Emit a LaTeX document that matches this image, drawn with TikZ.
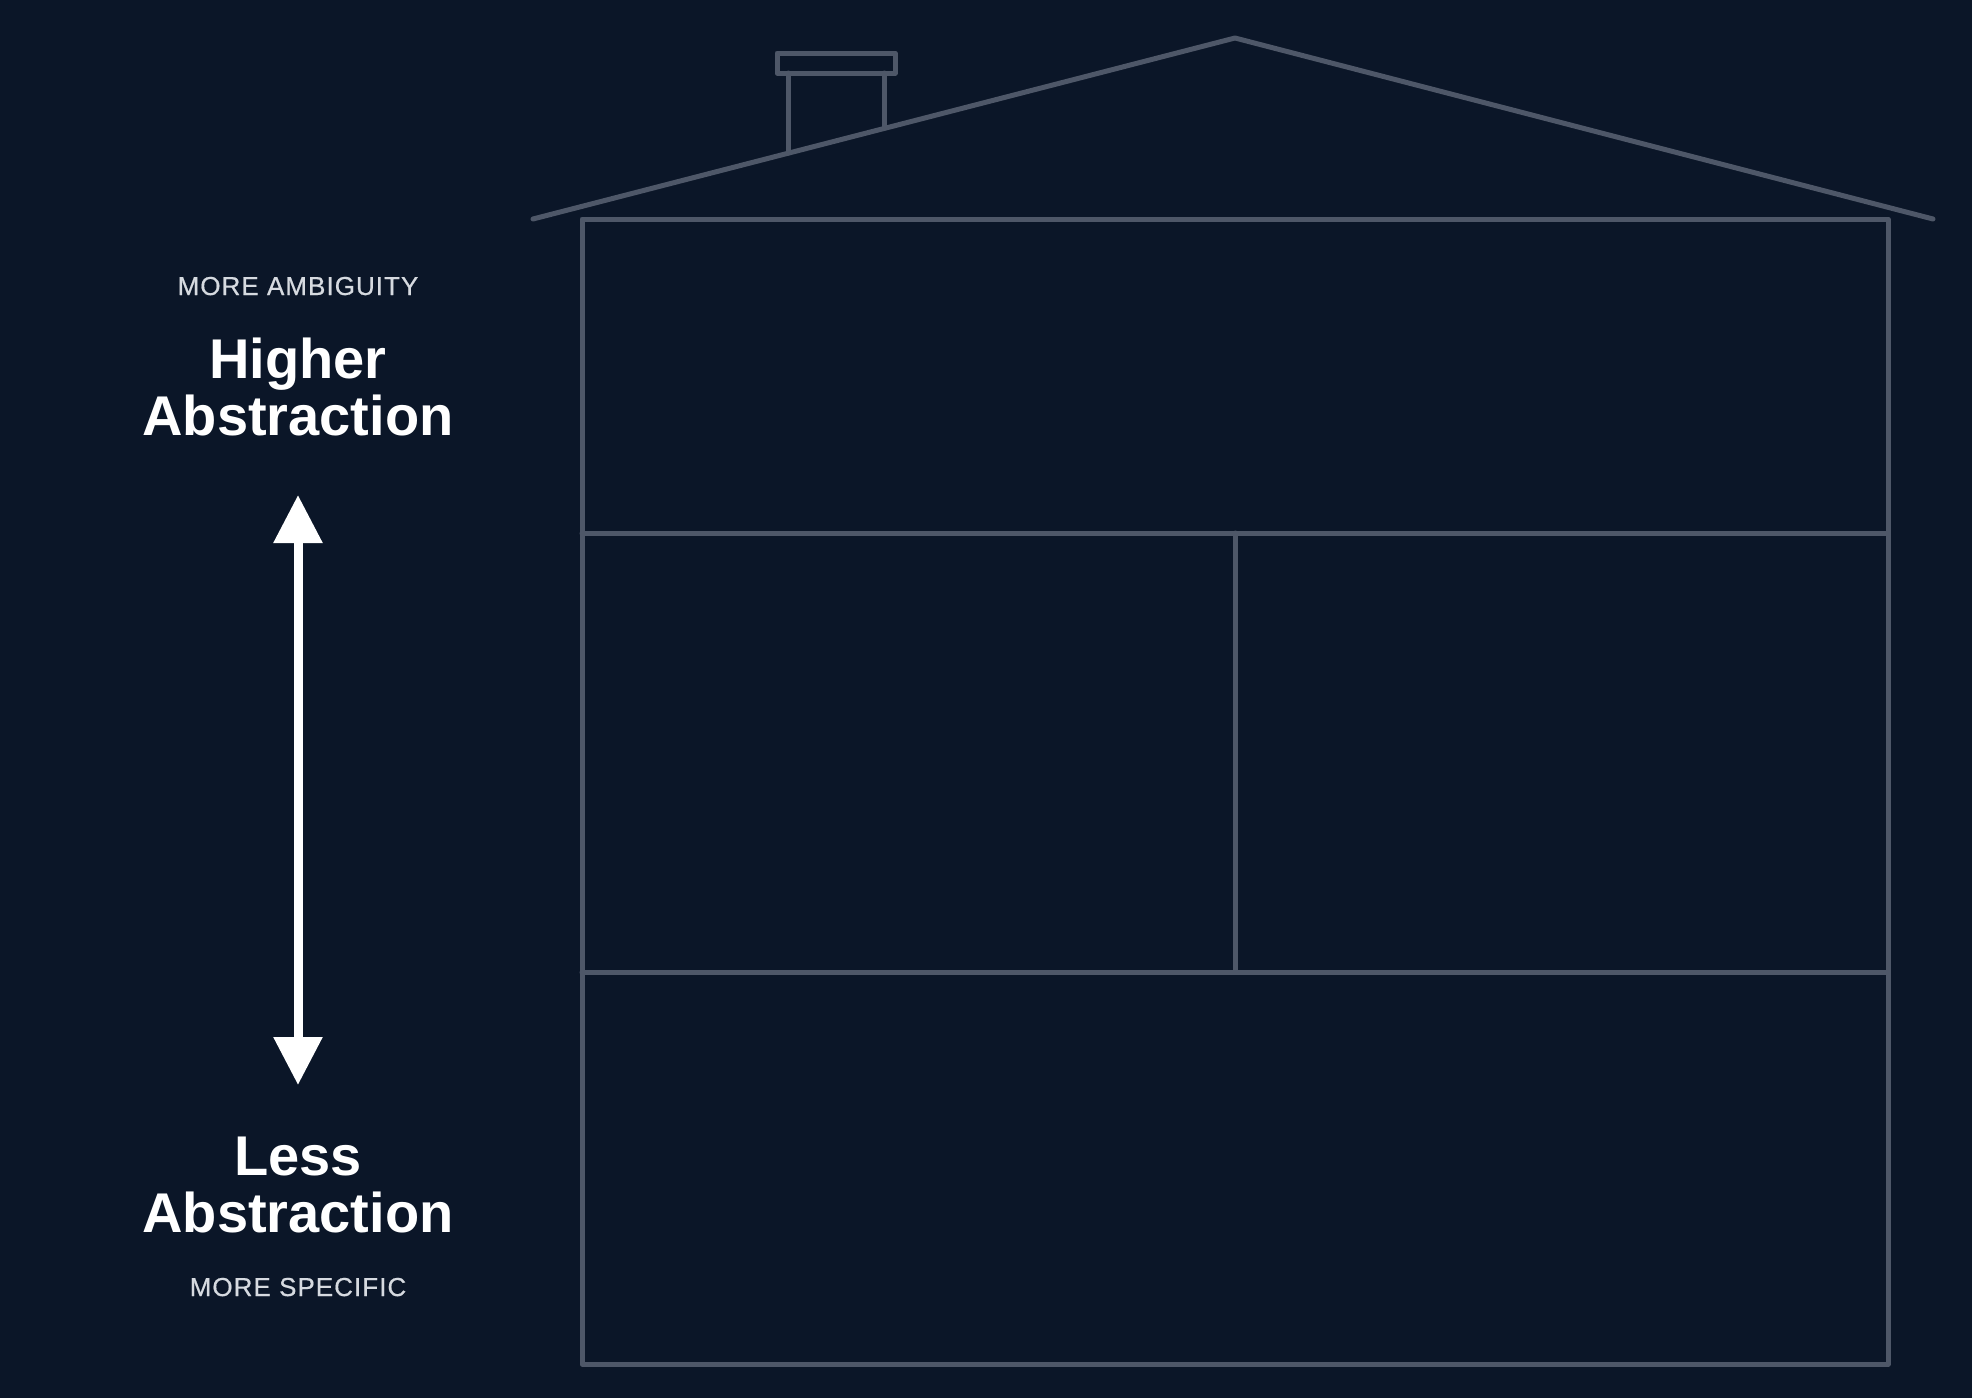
\documentclass[tikz,border=0pt]{standalone}
\usepackage{fontspec}
\setmainfont{Liberation Sans}
\usetikzlibrary{arrows.meta}
\definecolor{bg}{HTML}{0B1628}
\definecolor{housecol}{HTML}{4E5768}
\definecolor{smallcol}{HTML}{D6DAE0}
\tikzset{
  houseline/.style={draw=housecol, line width=2.5pt, line cap=round, line join=round},
  bigtext/.style={text=white, font=\fontsize{28pt}{28pt}\selectfont\bfseries, anchor=base, inner sep=0pt},
  smalltext/.style={text=smallcol, font=\fontsize{13pt}{13pt}\selectfont\addfontfeatures{LetterSpace=4,FakeBold=0.6}, anchor=base, inner sep=0pt},
  axisarrow/.style={draw=white, line width=4.5pt, {Triangle[length=24pt,width=23.5pt]}-{Triangle[length=24pt,width=23.5pt]}}
}
\begin{document}
\begin{tikzpicture}[x=0.5pt,y=-0.5pt]
\fill[bg] (0,0) rectangle (1972,1398);
\useasboundingbox (0,0) rectangle (1972,1398);
% house
\coordinate (roofL) at (533,219);
\coordinate (peak) at (1235,38);
\coordinate (roofR) at (1933,219);
\coordinate (chL) at (788,153);
\coordinate (chR) at (884,128);
\draw[houseline] (roofL) -- (peak) -- (roofR);
\draw[houseline] (chL) -- (788,73);
\draw[houseline] (chR) -- (884,73);
\draw[houseline] (777,53) rectangle (895,73);
\draw[houseline] (582,219) rectangle (1888,1364);
\draw[houseline] (582,533) -- (1888,533);
\draw[houseline] (582,972) -- (1888,972);
\draw[houseline] (1235,533) -- (1235,972);
% texts
\node[smalltext] (amb) at (298,295) {MORE AMBIGUITY};
\node[bigtext] (higher) at (298,378) {Higher};
\node[bigtext] (abs1) at (298,435) {Abstraction};
\node[bigtext] (less) at (298,1175) {Less};
\node[bigtext] (abs2) at (298,1232) {Abstraction};
\node[smalltext] (spec) at (298,1296) {MORE SPECIFIC};
% arrow
\coordinate (tipup) at (298,495);
\coordinate (tipdn) at (298,1085);
\draw[axisarrow] (tipup) -- (tipdn);
\end{tikzpicture}
\end{document}
